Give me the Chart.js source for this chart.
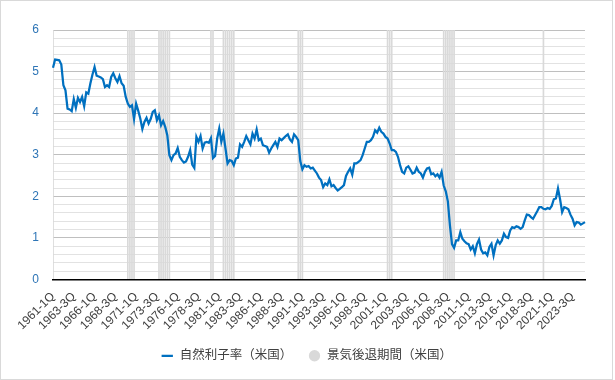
<!DOCTYPE html>
<html lang="ja">
<head>
<meta charset="utf-8">
<title>自然利子率（米国）</title>
<script src="https://cdn.jsdelivr.net/npm/chart.js@4.4.1/dist/chart.umd.min.js"></script>
<style>
  html, body { margin: 0; padding: 0; background: #fff; }
  .chart-box {
    position: relative;
    width: 613px;
    height: 380px;
    box-sizing: border-box;
    border: 1px solid #d9d9d9;
    background: #fff;
  }
</style>
</head>
<body>
<div class="chart-box"><canvas id="rstarChart"></canvas></div>
<script>
const START_YEAR = 1961;

// natural rate of interest (US), quarterly, one row per year starting 1961
const rstarValues = [
  5.09, 5.29, 5.28, 5.27,
  5.17, 4.67, 4.55, 4.11,
  4.09, 4.05, 4.34, 4.13,
  4.37, 4.27, 4.39, 4.17,
  4.50, 4.47, 4.72, 4.93,
  5.11, 4.90, 4.88, 4.86,
  4.82, 4.63, 4.67, 4.63,
  4.87, 4.96, 4.84, 4.75,
  4.89, 4.72, 4.66, 4.39,
  4.23, 4.15, 4.19, 3.86, // 1970
  4.23, 4.06, 3.87, 3.62,
  3.79, 3.89, 3.75, 3.86,
  4.03, 4.07, 3.83, 3.95,
  3.71, 3.81, 3.67, 3.47,
  2.99, 2.87, 2.99, 3.03,
  3.16, 2.95, 2.87, 2.81,
  2.84, 2.95, 3.11, 2.76,
  2.68, 3.43, 3.31, 3.45,
  3.15, 3.29, 3.31, 3.29,
  3.40, 2.92, 2.97, 3.39, // 1980
  3.63, 3.31, 3.51, 3.15,
  2.79, 2.87, 2.85, 2.75,
  2.91, 2.93, 3.25, 3.19,
  3.31, 3.45, 3.35, 3.25,
  3.51, 3.39, 3.61, 3.35,
  3.39, 3.23, 3.21, 3.19,
  3.05, 3.15, 3.23, 3.31,
  3.19, 3.39, 3.35, 3.40,
  3.45, 3.49, 3.37, 3.31,
  3.49, 3.43, 3.35, 2.85, // 1990
  2.65, 2.75, 2.71, 2.73,
  2.67, 2.69, 2.62, 2.55,
  2.45, 2.39, 2.22, 2.31,
  2.27, 2.41, 2.24, 2.27,
  2.20, 2.14, 2.18, 2.22,
  2.27, 2.49, 2.59, 2.67,
  2.52, 2.79, 2.79, 2.83,
  2.87, 2.99, 3.15, 3.31,
  3.31, 3.35, 3.43, 3.59,
  3.53, 3.65, 3.55, 3.51, // 2000
  3.43, 3.39, 3.27, 3.11,
  3.11, 3.07, 2.95, 2.75,
  2.59, 2.55, 2.69, 2.72,
  2.64, 2.55, 2.57, 2.69,
  2.59, 2.55, 2.45, 2.59,
  2.67, 2.69, 2.53, 2.55,
  2.48, 2.53, 2.45, 2.59,
  2.26, 2.12, 1.88, 1.30,
  0.85, 0.76, 0.94, 0.94,
  1.14, 0.98, 0.92, 0.87, // 2010
  0.85, 0.72, 0.80, 0.63,
  0.85, 0.96, 0.72, 0.63,
  0.65, 0.58, 0.78, 0.86,
  0.58, 0.82, 0.94, 0.86,
  0.94, 1.10, 1.02, 1.00,
  1.18, 1.26, 1.24, 1.28,
  1.26, 1.22, 1.26, 1.42,
  1.56, 1.55, 1.50, 1.46,
  1.55, 1.64, 1.74, 1.74,
  1.70, 1.69, 1.72, 1.70, // 2020
  1.77, 1.93, 1.95, 2.19,
  1.93, 1.62, 1.74, 1.72,
  1.69, 1.56, 1.46, 1.30,
  1.38, 1.37, 1.32, 1.35,
  1.38,
];

// recession quarters (US), shaded to the top of the axis
const recessionQuarters = [
  "1961-1Q",
  "1970-1Q", "1970-2Q", "1970-3Q", "1970-4Q",
  "1973-4Q", "1974-1Q", "1974-2Q", "1974-3Q", "1974-4Q", "1975-1Q",
  "1980-1Q", "1980-2Q",
  "1981-3Q", "1981-4Q", "1982-1Q", "1982-2Q", "1982-3Q", "1982-4Q",
  "1990-3Q", "1990-4Q", "1991-1Q",
  "2001-2Q", "2001-3Q", "2001-4Q",
  "2008-1Q", "2008-2Q", "2008-3Q", "2008-4Q", "2009-1Q", "2009-2Q",
  "2020-1Q",
];

const Y_MIN = 0;
const Y_MAX = 6;
const LABEL_EVERY = 10;

const quarterLabels = rstarValues.map((_, i) => {
  const year = START_YEAR + Math.floor(i / 4);
  return `${year}-${(i % 4) + 1}Q`;
});

const recessionBars = quarterLabels.map((label) =>
  recessionQuarters.includes(label) ? Y_MAX : null
);

Chart.defaults.font.family = '"Liberation Sans", "Noto Sans CJK JP", sans-serif';
Chart.defaults.font.size = 12;
Chart.defaults.color = "#404040";

const isWhole = (v) => Math.abs(v - Math.round(v)) < 1e-6;

new Chart(document.getElementById("rstarChart"), {
  type: "line",
  data: {
    labels: quarterLabels,
    datasets: [
      {
        type: "line",
        label: "自然利子率（米国）",
        data: rstarValues,
        borderColor: "#0070c0",
        backgroundColor: "#0070c0",
        borderWidth: 2.25,
        pointRadius: 0,
        pointStyle: "line",
        tension: 0,
        order: 0,
      },
      {
        type: "bar",
        label: "景気後退期間（米国）",
        data: recessionBars,
        backgroundColor: "#d9d9d9",
        borderWidth: 0,
        barPercentage: 0.8,
        categoryPercentage: 1,
        pointStyle: "circle",
        order: 1,
      },
    ],
  },
  options: {
    responsive: true,
    maintainAspectRatio: false,
    animation: false,
    layout: {
      padding: { top: 29, right: 27, bottom: 7, left: 27 },
    },
    plugins: {
      tooltip: { enabled: false },
      legend: {
        position: "bottom",
        labels: {
          usePointStyle: true,
          boxWidth: 16,
          boxHeight: 8,
          padding: 16,
          color: "#404040",
          font: { size: 12.5 },
        },
      },
    },
    scales: {
      x: {
        offset: false,
        afterFit: (scale) => {
          scale.height = 54;
        },
        grid: { display: false },
        border: { color: "#000", width: 1.5 },
        ticks: {
          autoSkip: false,
          maxRotation: 45,
          minRotation: 45,
          padding: 2,
          color: "#404040",
          callback: function (value, index) {
            return index % LABEL_EVERY === 0 ? this.getLabelForValue(value) : null;
          },
        },
      },
      y: {
        min: Y_MIN,
        max: Y_MAX,
        afterFit: (scale) => {
          scale.width = 25;
        },
        border: { display: false },
        grid: {
          drawTicks: false,
          color: (ctx) => (isWhole(ctx.tick.value) ? "#bfbfbf" : "#e2e2e2"),
        },
        ticks: {
          stepSize: 0.2,
          autoSkip: false,
          padding: 14,
          color: "#2e75b6",
          callback: (value) => (isWhole(value) ? Math.round(value) : ""),
        },
      },
    },
  },
});
</script>
</body>
</html>
